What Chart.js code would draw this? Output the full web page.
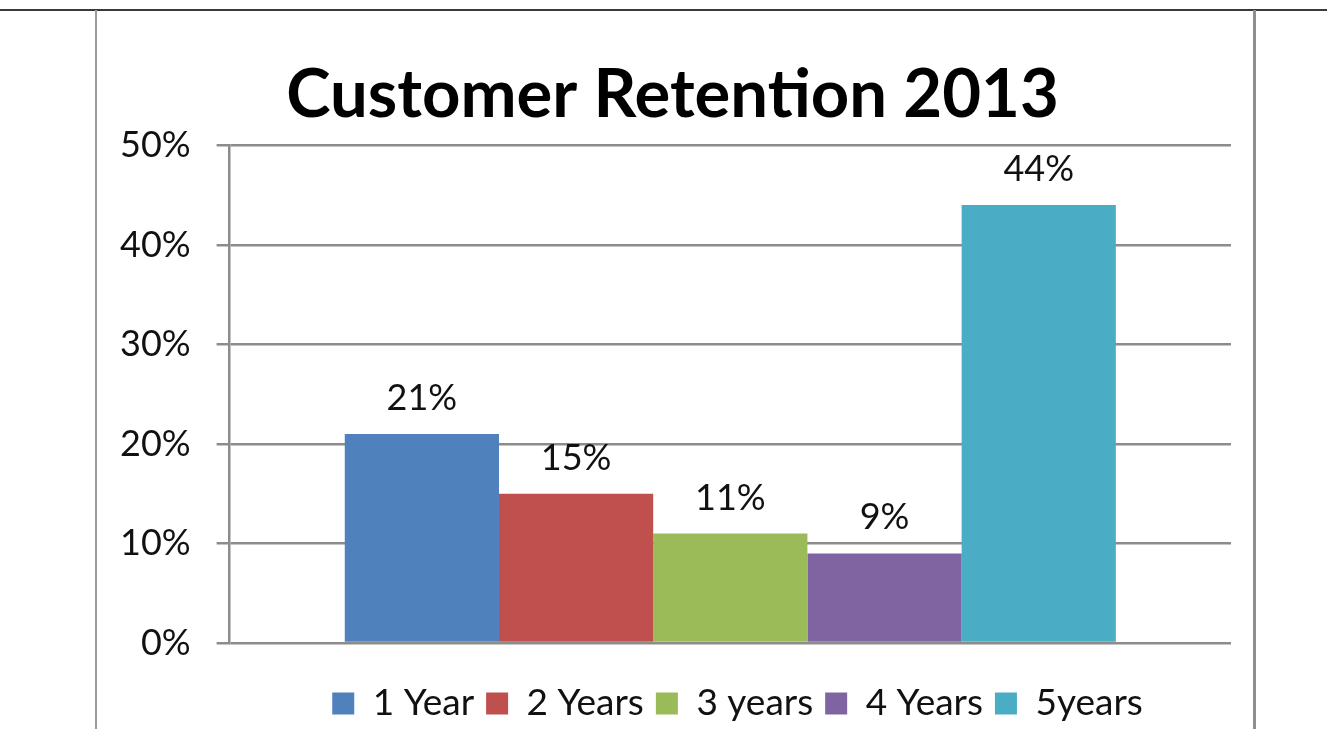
<!DOCTYPE html>
<html>
<head>
<meta charset="utf-8">
<script src="https://cdn.jsdelivr.net/npm/chart.js@4/dist/chart.umd.min.js"></script>
<style>
    html, body { margin: 0; padding: 0; background: #fff; }
    #wrap { position: relative; width: 1327px; height: 729px; overflow: hidden; }
    #topLine { position: absolute; left: 0; top: 9px; width: 1327px; height: 2px; background: #3a3a3a; }
    #frame { position: absolute; left: 95px; top: 10px; width: 1156px; height: 740px;
             border-left: 2px solid #9a9a9a; border-right: 3px solid #8f8f8f; }
    canvas { position: absolute; left: 0; top: 0; }
</style>
</head>
<body>
<div id="wrap">
    <div id="topLine"></div>
    <div id="frame"></div>
    <canvas id="retentionChart" width="1327" height="729"></canvas>
</div>
<script>
// Chart data
const seriesNames = ['1 Year', '2 Years', '3 years', '4 Years', '5years'];
const retention = [21, 15, 11, 9, 44];
const seriesColors = ['#4F81BD', '#C0504D', '#9BBB59', '#8064A2', '#4BACC6'];
const yTicks = [0, 10, 20, 30, 40, 50];

const fontFamily = 'Lato, "Open Sans", sans-serif';

// Percent labels above each bar
const barLabels = {
    id: 'barLabels',
    afterDatasetsDraw(chart) {
        const ctx = chart.ctx;
        ctx.save();
        ctx.font = '36px ' + fontFamily;
        ctx.fillStyle = '#111';
        ctx.textAlign = 'center';
        ctx.textBaseline = 'alphabetic';
        chart.data.datasets.forEach((ds, i) => {
            const meta = chart.getDatasetMeta(i);
            meta.data.forEach((bar, j) => {
                ctx.fillText(ds.data[j] + '%', bar.x, bar.y - 24);
            });
        });
        ctx.restore();
    }
};

// title and legend sit a bit right of centre in the original
const boxShift = {
    id: 'boxShift',
    afterLayout(chart) {
        chart.legend.left += 75;
        chart.legend.right += 75;
        chart.titleBlock.left += 10;
        chart.titleBlock.right += 10;
    }
};

const ctx = document.getElementById('retentionChart').getContext('2d');
new Chart(ctx, {
    type: 'bar',
    data: {
        labels: [''],
        datasets: seriesNames.map((name, i) => ({
            label: name,
            data: [retention[i]],
            backgroundColor: seriesColors[i],
            borderWidth: 0
        }))
    },
    options: {
        responsive: false,
        animation: false,
        devicePixelRatio: 1,
        layout: { padding: { left: 94, right: 96, top: 0, bottom: -3 } },
        datasets: { bar: { categoryPercentage: 0.77, barPercentage: 1.0 } },
        plugins: {
            title: {
                display: true,
                text: 'Customer Retention 2013',
                color: '#000',
                font: { family: fontFamily, size: 67, weight: 'bold' },
                padding: { top: 55, bottom: 10 }
            },
            legend: {
                position: 'bottom',
                labels: {
                    color: '#111',
                    font: { family: fontFamily, size: 37 },
                    boxWidth: 22,
                    boxHeight: 22,
                    padding: 12
                }
            },
            tooltip: { enabled: false }
        },
        scales: {
            x: {
                grid: { display: false },
                border: { display: false },
                ticks: { display: false },
                afterFit: axis => { axis.height = 30; }
            },
            y: {
                min: 0,
                max: 50,
                afterBuildTicks: axis => { axis.ticks = yTicks.map(v => ({ value: v })); },
                ticks: {
                    color: '#111',
                    font: { family: fontFamily, size: 36 },
                    padding: 26,
                    callback: v => v + '%'
                },
                grid: { color: '#8c8c8c', lineWidth: 2.5, tickLength: 13 },
                border: { display: true, color: '#8c8c8c', width: 2.5 }
            }
        }
    },
    plugins: [barLabels, boxShift]
});
</script>
</body>
</html>
